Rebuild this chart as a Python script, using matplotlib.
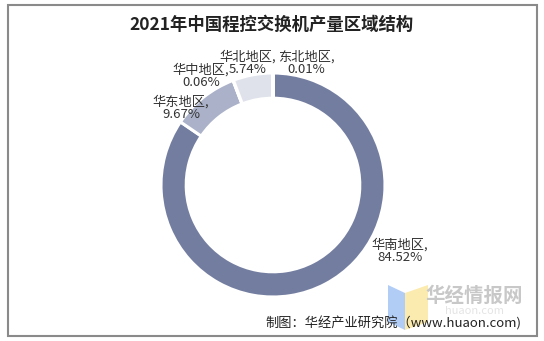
import matplotlib.pyplot as plt
from matplotlib.patches import Rectangle, Polygon

plt.rcParams['font.family'] = ['Noto Sans CJK SC', 'DejaVu Sans']

regions = ['华南地区', '华东地区', '华中地区', '华北地区', '东北地区']
shares = [84.52, 9.67, 0.06, 5.74, 0.01]
colors = ['#737da0', '#aab1c8', '#c4c9d9', '#dfe2ea', '#eceef3']

W, H = 544, 341
fig = plt.figure(figsize=(W / 100, H / 100), dpi=100)

def px(x, y):
    return x / W, 1 - y / H

# outer frame
fig.patches.append(Rectangle(px(8, 336), 529 / W, 331 / H, transform=fig.transFigure,
                             fill=False, edgecolor='#8a8a8a', lw=1.5))

# donut
cx, cy, r = 273, 185, 112
ax = fig.add_axes([(cx - r) / W, (H - cy - r) / H, 2 * r / W, 2 * r / H])
ax.pie(shares, colors=colors, startangle=90, counterclock=False, radius=1,
       wedgeprops=dict(width=0.225, edgecolor='white', linewidth=2.2))
ax.set_xlim(-1, 1)
ax.set_ylim(-1, 1)
ax.axis('off')

fig.text(*px(272, 25), '2021年中国程控交换机产量区域结构', ha='center', va='center',
         fontsize=12.5, fontweight='bold', color='#222222')

# label spots for each slice
label_pos = [(400, 251), (181, 108), (201, 76), (248, 63), (306, 63)]
for name, v, (x, y) in zip(regions, shares, label_pos):
    fig.text(*px(x, y), f'{name},\n{v:.2f}%', ha='center', va='center',
             fontsize=9.5, color='#333333', linespacing=1.0)

# watermark
fig.patches.append(Polygon([px(388, 285), px(405, 293), px(405, 330), px(388, 322)],
                           closed=True, transform=fig.transFigure,
                           facecolor='#a9c8f5', edgecolor='none', alpha=0.9))
fig.patches.append(Polygon([px(405, 293), px(428, 285), px(428, 322), px(405, 330)],
                           closed=True, transform=fig.transFigure,
                           facecolor='#fbe9a6', edgecolor='none', alpha=0.9))
fig.text(*px(474, 296), '华经情报网', ha='center', va='center', fontsize=14,
         fontweight='bold', color='#c8c8c8')
fig.text(*px(474, 311), 'huaon.com', ha='center', va='center', fontsize=8,
         color='#e4e4e4')

fig.text(*px(521, 323), '制图：华经产业研究院（www.huaon.com)', ha='right', va='center',
         fontsize=9.5, color='#222222')

fig.savefig('out.png', dpi=100, facecolor='white')
